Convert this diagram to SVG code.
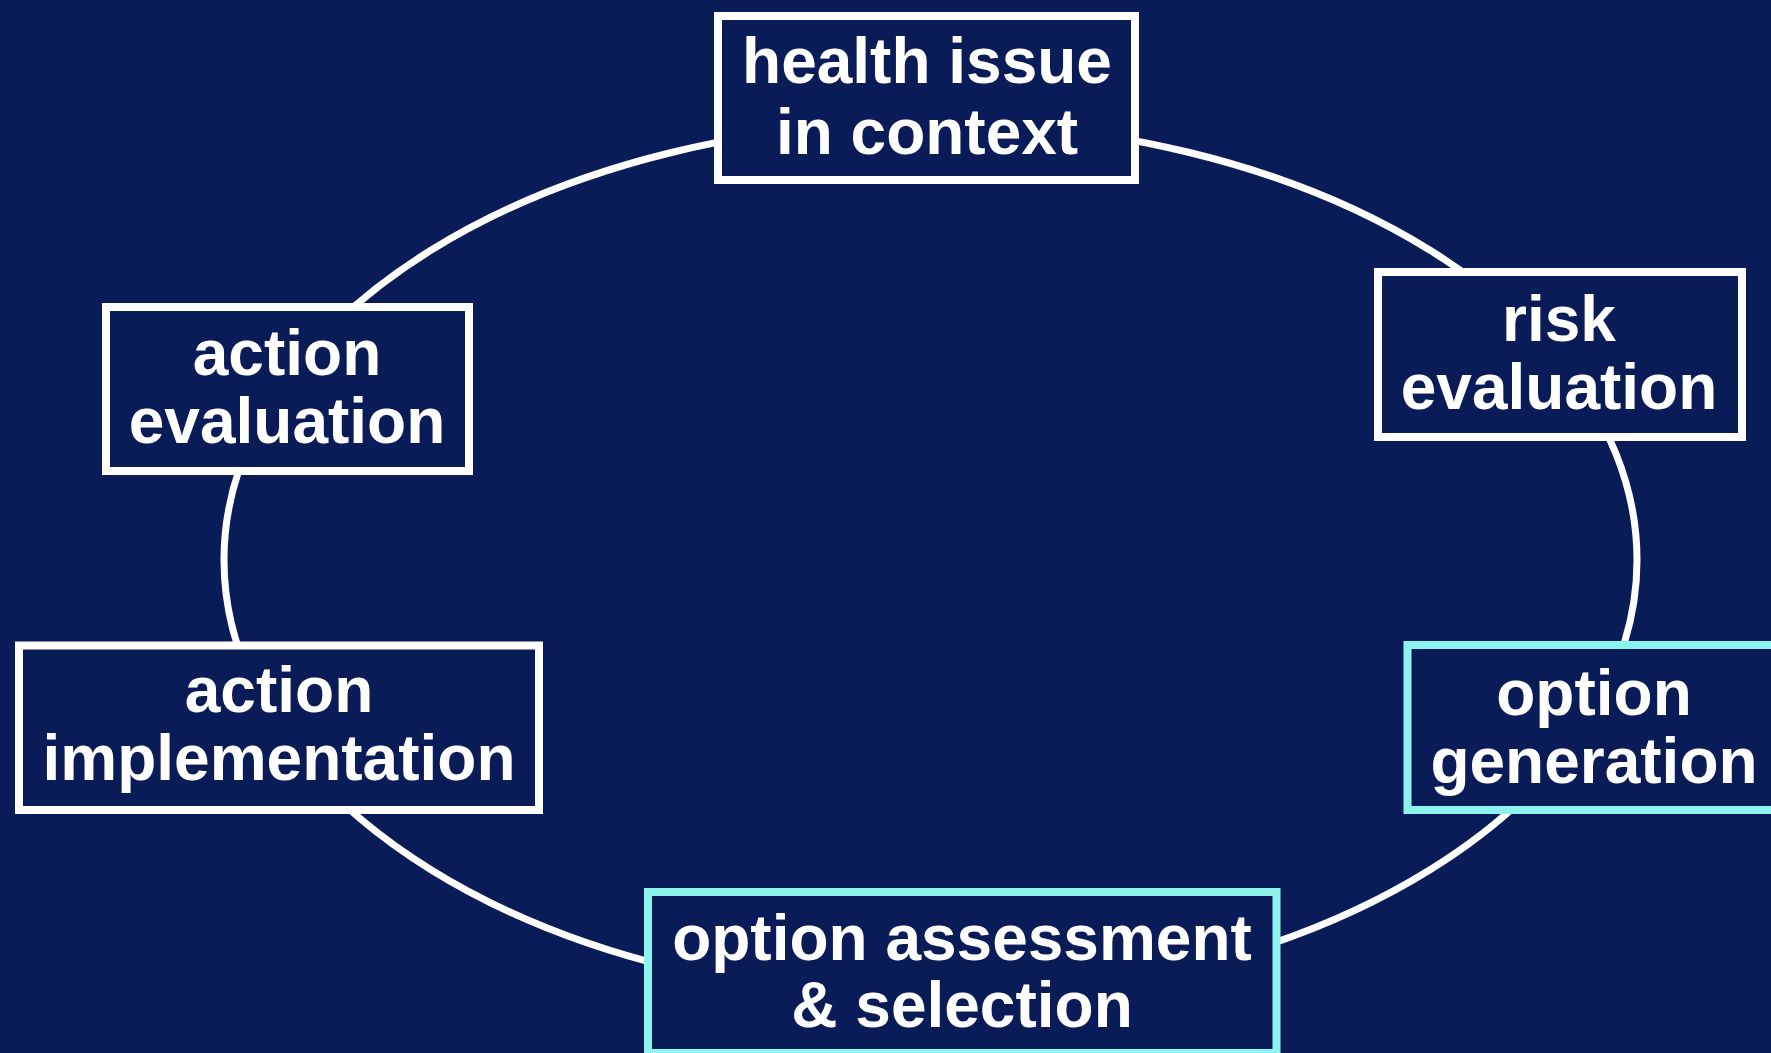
<svg xmlns="http://www.w3.org/2000/svg" width="1771" height="1053" viewBox="0 0 1771 1053">
<style>
.bg{fill:#0a1c57}
.box{fill:#0a1c57;stroke:#ffffff;stroke-width:8}
.hl{stroke:#8cf4ec}
.conn{fill:none;stroke:#ffffff;stroke-width:7}
.t{font-family:"Liberation Sans",Arial,sans-serif;font-weight:bold;font-size:64px;fill:#ffffff;text-anchor:middle}
</style>
<rect class="bg" x="0" y="0" width="1771" height="1053"/>
<g id="connectors">
<ellipse class="conn" cx="930.5" cy="560" rx="706.5" ry="438"/>
</g>
<g id="health-issue">
<rect class="box" x="718" y="16" width="417" height="164"/>
<text class="t" x="927" y="83">health issue</text>
<text class="t" x="927" y="154">in context</text>
</g>
<g id="risk-evaluation">
<rect class="box" x="1378" y="272" width="364" height="165"/>
<text class="t" x="1559" y="341">risk</text>
<text class="t" x="1559" y="409">evaluation</text>
</g>
<g id="option-generation">
<rect class="box hl" x="1407.5" y="645" width="373" height="165"/>
<text class="t" x="1594" y="715">option</text>
<text class="t" x="1594" y="783">generation</text>
</g>
<g id="option-assessment">
<rect class="box hl" x="648" y="892" width="628.5" height="161"/>
<text class="t" x="962" y="960">option assessment</text>
<text class="t" x="962" y="1027">&amp; selection</text>
</g>
<g id="action-implementation">
<rect class="box" x="19" y="645.5" width="520" height="164.5"/>
<text class="t" x="279" y="712">action</text>
<text class="t" x="279" y="780">implementation</text>
</g>
<g id="action-evaluation">
<rect class="box" x="106" y="307" width="363" height="164"/>
<text class="t" x="287" y="375">action</text>
<text class="t" x="287" y="443">evaluation</text>
</g>
</svg>
